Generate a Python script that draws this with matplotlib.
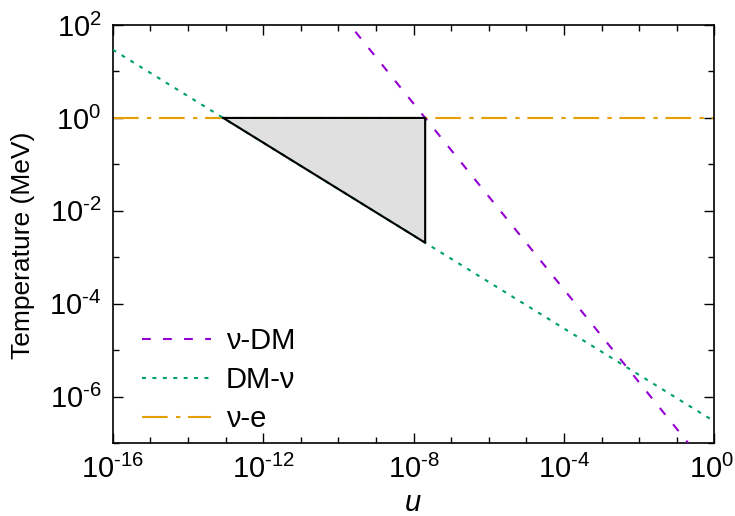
"""Temperature vs u, log-log, with shaded region."""

import matplotlib
matplotlib.use("Agg")
import matplotlib.pyplot as plt
from matplotlib import ticker
from matplotlib.transforms import ScaledTranslation

plt.rcParams["font.family"] = ["Liberation Sans", "DejaVu Sans"]
plt.rcParams["mathtext.fontset"] = "custom"
plt.rcParams["mathtext.rm"] = "Liberation Sans"
plt.rcParams["mathtext.it"] = "Liberation Sans:italic"

# line endpoints (straight lines on log-log axes)
u_ends = [1e-16, 1.0]
nu_dm_T = [10 ** 8.31, 10 ** -7.69]      # T ~ 1/u
dm_nu_T = [10 ** 1.47, 10 ** -6.53]      # T ~ u^-1/2
nu_e_T = [1.0, 1.0]

# shaded region vertices
region_u = [10 ** -13.06, 10 ** -7.69, 10 ** -7.69, 10 ** -13.06]
region_T = [1.0, 1.0, 10 ** -2.685, 1.0]

x_ticks = [1e-16, 1e-12, 1e-8, 1e-4, 1.0]
x_labels = ["-16", "-12", "-8", "-4", "0"]
y_ticks = [1e-6, 1e-4, 1e-2, 1.0, 1e2]
y_labels = ["-6", "-4", "-2", "0", "2"]

PURPLE = "#9400d3"
GREEN = "#009e73"
ORANGE = "#e69f00"


def exp_label(s):
    s = s.replace("-", r"\text{-}")
    return r"$\mathregular{10^{%s}}$" % s


fig = plt.figure(figsize=(7.35, 5.16), dpi=100)
ax = fig.add_axes([112.7 / 735, 1 - 443.2 / 516, 601.6 / 735, 418.2 / 516])

ax.fill(region_u, region_T, color="#e0e0e0", zorder=1)
ax.plot(region_u, region_T, color="black", lw=1.5, zorder=4)

ax.plot(u_ends, nu_dm_T, color=PURPLE, lw=1.5, dashes=(4.2, 5.9), label="ν-DM", zorder=3)
ax.plot(u_ends, dm_nu_T, color=GREEN, lw=1.5, dashes=(1.9, 3.1), label="DM-ν", zorder=3)
ax.plot(u_ends, nu_e_T, color=ORANGE, lw=1.5, dashes=(12.3, 4.0, 2.1, 3.7), label="ν-e", zorder=2)

ax.set_xscale("log")
ax.set_yscale("log")
ax.set_xlim(1e-16, 1.0)
ax.set_ylim(1e-7, 1e2)

ax.set_xticks(x_ticks)
ax.set_xticklabels([exp_label(s) for s in x_labels])
ax.set_yticks(y_ticks)
ax.set_yticklabels([exp_label(s) for s in y_labels])
ax.xaxis.set_minor_locator(ticker.LogLocator(base=10, subs=(1.0,), numticks=40))
ax.yaxis.set_minor_locator(ticker.LogLocator(base=10, subs=(1.0,), numticks=40))
ax.xaxis.set_minor_formatter(ticker.NullFormatter())
ax.yaxis.set_minor_formatter(ticker.NullFormatter())
ax.tick_params(which="both", direction="in", top=True, right=True, labelsize=21, width=1.0)
ax.tick_params(which="major", length=7, pad=8)
ax.tick_params(which="minor", length=4)
for spine in ax.spines.values():
    spine.set_linewidth(1.2)

# nudge the last x label so it stays inside the canvas
last = ax.get_xticklabels()[-1]
last.set_transform(last.get_transform() + ScaledTranslation(-3 / 100, 0, fig.dpi_scale_trans))

ax.set_xlabel("$u$", fontsize=21, va="baseline")
ax.set_ylabel("Temperature (MeV)", fontsize=19)
ax.xaxis.set_label_coords(0.499, -0.161)
ax.yaxis.set_label_coords(-0.129, 0.472)

ax.legend(loc="lower left", bbox_to_anchor=(0.0487, 0.024), frameon=False, fontsize=21,
          handlelength=2.36, handletextpad=0.51, labelspacing=0.38, borderpad=0,
          borderaxespad=0)

fig.savefig("out.png", dpi=100)
